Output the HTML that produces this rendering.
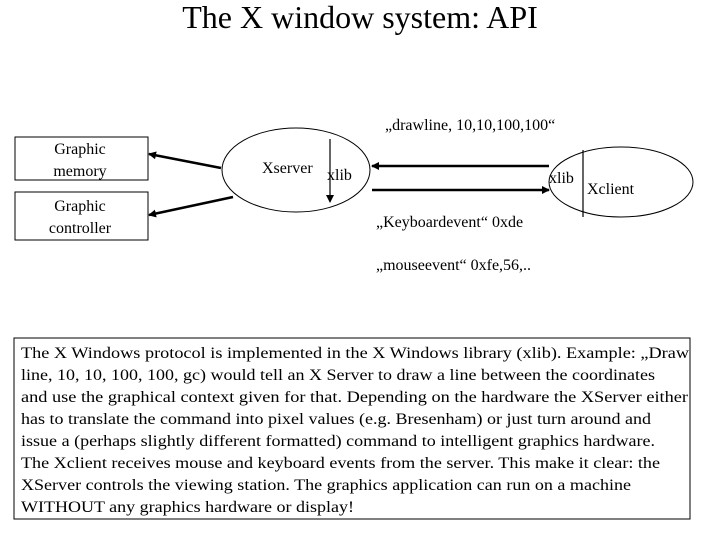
<!DOCTYPE html>
<html><head><meta charset="utf-8"><style>
body{margin:0;background:#fff;}
svg{display:block;}
text{font-family:"Liberation Serif","Times New Roman",serif;}
</style></head><body>
<svg width="720" height="540" viewBox="0 0 720 540" xmlns="http://www.w3.org/2000/svg" font-family="Liberation Serif, serif">
<defs>
<marker id="a" markerWidth="8" markerHeight="8" refX="7" refY="4" orient="auto" markerUnits="userSpaceOnUse"><path d="M0,0 L8,4 L0,8 z" fill="#000"/></marker>
</defs>
<text x="360" y="28" font-size="32" text-anchor="middle">The X window system: API</text>
<text x="385" y="130" font-size="16">„drawline, 10,10,100,100“</text>
<rect x="15" y="137" width="133" height="43" fill="none" stroke="#000"/>
<text x="80" y="154" font-size="16" text-anchor="middle">Graphic</text>
<text x="80" y="176" font-size="16" text-anchor="middle">memory</text>
<rect x="15" y="192" width="133" height="48" fill="none" stroke="#000"/>
<text x="80" y="211" font-size="16" text-anchor="middle">Graphic</text>
<text x="80" y="233" font-size="16" text-anchor="middle">controller</text>
<ellipse cx="296" cy="170" rx="74" ry="42" fill="none" stroke="#000"/>
<text x="262" y="173" font-size="16">Xserver</text>
<text x="327" y="180" font-size="16">xlib</text>
<line x1="330" y1="139" x2="330" y2="202" stroke="#000" stroke-width="1.2" marker-end="url(#a)"/>
<line x1="221" y1="168" x2="149" y2="154" stroke="#000" stroke-width="2.5" marker-end="url(#a)"/>
<line x1="233" y1="197" x2="149" y2="215" stroke="#000" stroke-width="2.5" marker-end="url(#a)"/>
<line x1="549" y1="166" x2="372" y2="166" stroke="#000" stroke-width="2.5" marker-end="url(#a)"/>
<line x1="372" y1="190" x2="549" y2="190" stroke="#000" stroke-width="2.5" marker-end="url(#a)"/>
<ellipse cx="621" cy="182" rx="72" ry="35" fill="none" stroke="#000"/>
<line x1="583" y1="150" x2="583" y2="217" stroke="#000" stroke-width="1.2"/>
<text x="549" y="183" font-size="16">xlib</text>
<text x="587" y="194" font-size="16">Xclient</text>
<text x="376" y="227" font-size="16">„Keyboardevent“ 0xde</text>
<text x="376" y="270" font-size="16">„mouseevent“ 0xfe,56,..</text>
<rect x="14" y="338" width="676" height="181" fill="none" stroke="#000"/>
<g font-size="16" font-family="Liberation Serif, serif">
<text x="21" y="358" textLength="668" lengthAdjust="spacingAndGlyphs">The X Windows protocol is implemented in the X Windows library (xlib). Example: „Draw</text>
<text x="21" y="380" textLength="634" lengthAdjust="spacingAndGlyphs">line, 10, 10, 100, 100, gc) would tell an X Server to draw a line between the coordinates</text>
<text x="21" y="402" textLength="667" lengthAdjust="spacingAndGlyphs">and use the graphical context given for that. Depending on the hardware the XServer either</text>
<text x="21" y="424" textLength="630" lengthAdjust="spacingAndGlyphs">has to translate the command into pixel values (e.g. Bresenham) or just turn around and</text>
<text x="21" y="446" textLength="634" lengthAdjust="spacingAndGlyphs">issue a (perhaps slightly different formatted) command to intelligent graphics hardware.</text>
<text x="21" y="468" textLength="639" lengthAdjust="spacingAndGlyphs">The Xclient receives mouse and keyboard events from the server. This make it clear: the</text>
<text x="21" y="490" textLength="610" lengthAdjust="spacingAndGlyphs">XServer controls the viewing station. The graphics application can run on a machine</text>
<text x="21" y="512" textLength="333" lengthAdjust="spacingAndGlyphs">WITHOUT any graphics hardware or display!</text>
</g>
</svg>
</body></html>
